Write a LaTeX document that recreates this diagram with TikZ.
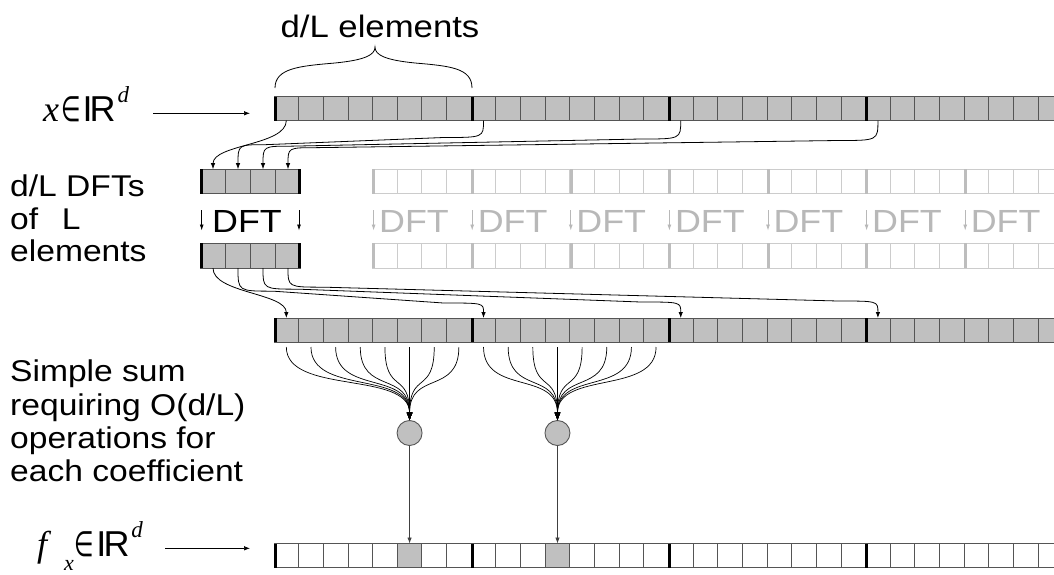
\documentclass[tikz,border=0pt]{standalone}
\usepackage{fontspec}
\setmainfont{Liberation Sans}[FakeStretch=1.12]
\newfontfamily\tnr{Liberation Serif}
\newfontfamily\arial{Liberation Sans}
\newfontfamily\djv{DejaVu Sans}
\usetikzlibrary{arrows.meta,calc}
\definecolor{cellfill}{HTML}{C0C0C0}
\definecolor{cellline}{HTML}{555555}
\definecolor{faint}{HTML}{CCCCCC}
\definecolor{faintthick}{HTML}{BDBDBD}
\definecolor{gtext}{HTML}{B8B8B8}
\newcommand{\elemsym}{\scalebox{0.8}[1.25]{\fontsize{28}{30}\selectfont\djv ∈}}
\begin{document}
\begin{tikzpicture}[x=1pt,y=-1pt,
  cell/.style={draw=cellline, fill=cellfill, line width=0.9pt, minimum width=24.65pt, minimum height=24pt, inner sep=0pt, outer sep=0pt},
  wcell/.style={cell, fill=white},
  fcell/.style={draw=faint, fill=white, line width=0.9pt, minimum width=24.65pt, minimum height=24.7pt, inner sep=0pt, outer sep=0pt},
  bcell/.style={cell, minimum width=25pt, minimum height=24.7pt},
  sepline/.style={line width=3pt, black},
  fsepline/.style={line width=3pt, faintthick},
  arr/.style={-{Latex[length=6pt,width=4.5pt]}, line width=0.8pt, black},
  fanarr/.style={-{Latex[length=8pt,width=6pt]}, line width=0.7pt, black, shorten <=5pt},
  varr/.style={-{Latex[length=6pt,width=4.5pt]}, line width=0.8pt, black!75},
  darr/.style={-{Latex[length=6pt,width=4pt]}, line width=0.8pt, black},
  garr/.style={darr, gtext},
  lbl/.style={font=\fontsize{30}{33}\selectfont, inner sep=0pt, anchor=base west},
  dftlbl/.style={font=\fontsize{32}{35}\selectfont, inner sep=0pt},
  circ/.style={circle, draw=cellline, fill=cellfill, line width=0.9pt, minimum size=25pt, inner sep=0pt, outer sep=0pt}
]
\path[use as bounding box] (0,0) rectangle (1054,574);
\fill[white] (0,0) rectangle (1054,574);
\clip (0,0) rectangle (1054,574);

% ---------- labels ----------
\node[font=\fontsize{31}{34}\selectfont, inner sep=0pt, anchor=base] (top) at (380,37.5) {d/L elements};
\node[lbl] (l1) at (10,196) {d/L DFTs};
\node[lbl] (l2) at (10,229) {of~~\kern5pt L};
\node[lbl] (l3) at (10,261.5) {elements};
\node[lbl] (s1) at (10,381.7) {Simple sum};
\node[lbl] (s2) at (10,415) {requiring O(d/L)};
\node[lbl] (s3) at (10,448) {operations for};
\node[lbl] (s4) at (10,481) {each coefficient};

\node[inner sep=0pt, anchor=base west] (xl) at (43,121.7)
  {\fontsize{36}{40}\selectfont{\tnr\itshape x}\kern2pt\elemsym\kern2pt{\arial I\kern-3pt R}\kern2pt\raisebox{19pt}{\fontsize{23}{25}\selectfont\tnr\itshape d}};
\node[inner sep=0pt, anchor=base west] (fl) at (37,556.7)
  {\fontsize{36}{40}\selectfont{\tnr\itshape f}\kern17pt\raisebox{-14pt}{\fontsize{22}{24}\selectfont\tnr\itshape x}\kern1pt\elemsym\kern2pt{\arial I\kern-3pt R}\kern2pt\raisebox{19pt}{\fontsize{23}{25}\selectfont\tnr\itshape d}};

\coordinate (xs) at (153,113.3);
\coordinate (xe) at (250,113.3);
\draw[arr, line width=0.7pt] (xs) -- (xe);
\coordinate (fs) at (165,548.3);
\coordinate (fe) at (250,548.3);
\draw[arr, line width=0.7pt] (fs) -- (fe);

% ---------- brace ----------
\draw[line width=0.8pt] (275,88) .. controls (275,68) and (300,66) .. (335,63)
  .. controls (365,60) and (375,55) .. (375,47)
  .. controls (375,55) and (385,60) .. (415,63)
  .. controls (450,66) and (472,68) .. (472,88);

% ---------- long arrays ----------
\foreach \k in {0,...,31} {
  \node[cell] (t\k) at ({286.325+24.65*\k},108.5) {};
  \node[cell] (m\k) at ({286.325+24.65*\k},330) {};
  \ifnum\k=5 \def\st{cell}\else\ifnum\k=11 \def\st{cell}\else\def\st{wcell}\fi\fi
  \node[\st] (b\k) at ({286.325+24.65*\k},555.5) {};
}
\foreach \j in {0,...,3} {
  \draw[sepline] ({275.3+197.2*\j},96.5) -- ++(0,24);
  \draw[sepline] ({275.3+197.2*\j},318) -- ++(0,24);
  \draw[sepline] ({275.3+197.2*\j},543.5) -- ++(0,24);
}

% ---------- faded arrays ----------
\foreach \k in {0,...,27} {
  \node[fcell] (f\k) at ({384.925+24.65*\k},181.5) {};
  \node[fcell] (g\k) at ({384.925+24.65*\k},255.8) {};
}
\foreach \j in {0,...,6} {
  \draw[fsepline] ({373.8+98.6*\j},169.15) -- ++(0,24.7);
  \draw[fsepline] ({373.8+98.6*\j},243.45) -- ++(0,24.7);
  \coordinate (ga\j) at ({373.6+98.6*\j},210);
  \coordinate (gb\j) at ({373.6+98.6*\j},230.5);
  \draw[garr] (ga\j) -- (gb\j);
  \node[dftlbl, text=gtext, anchor=base west] (gd\j) at ({379+98.6*\j},232) {DFT};
}

% ---------- DFT blocks ----------
\foreach \i in {0,...,3} {
  \node[bcell] (a\i) at ({213+25*\i},181.5) {};
  \node[bcell] (c\i) at ({213+25*\i},255.8) {};
}
\draw[sepline] (201.8,169.15) -- ++(0,24.7);
\draw[sepline] (299.2,169.15) -- ++(0,24.7);
\draw[sepline] (201.8,243.45) -- ++(0,24.7);
\draw[sepline] (299.2,243.45) -- ++(0,24.7);
\node[dftlbl, anchor=base] (dft) at (247,232) {DFT};
\coordinate (da1) at (201.7,210);
\coordinate (db1) at (201.7,230.5);
\coordinate (da2) at (299,210);
\coordinate (db2) at (299,230.5);
\draw[darr] (da1) -- (db1);
\draw[darr] (da2) -- (db2);

% ---------- top array -> block 1 ----------
\draw[arr] (t0.south) .. controls +(0,25) and +(0,-25) .. (a0.north);
\foreach \i/\s in {1/8,2/16,3/24} {
  \pgfmathsetmacro\ya{15.5+1.5*\i}
  \pgfmathsetmacro\yb{26-1.5*\i}
  \draw[arr] (t\s.south) .. controls ($(t\s.south)+(0,\ya)$) .. ($(t\s.south)+(-40,\ya)$)
     -- ($(a\i.north)+(28,-\yb)$) .. controls ($(a\i.north)+(0,-\yb)$) .. (a\i.north);
}

% ---------- block 2 -> middle array ----------
\draw[arr] (c0.south) .. controls +(0,25) and +(0,-25) .. (m0.north);
\foreach \i/\s in {1/8,2/16,3/24} {
  \pgfmathsetmacro\ya{25-2*\i}
  \pgfmathsetmacro\yb{14+1*\i}
  \draw[arr] (c\i.south) .. controls ($(c\i.south)+(0,\ya)$) .. ($(c\i.south)+(35,\ya)$)
     -- ($(m\s.north)+(-40,-\yb)$) .. controls ($(m\s.north)+(0,-\yb)$) .. (m\s.north);
}

% ---------- sums ----------
\node[circ] (o1) at (409.575,433) {};
\node[circ] (o2) at (557.475,433) {};
\foreach \k in {0,...,7} {
  \draw[fanarr] (m\k.south) .. controls +(0,53) and +(0,-50) .. (o1.north);
}
\foreach \k in {8,...,15} {
  \draw[fanarr] (m\k.south) .. controls +(0,53) and +(0,-50) .. (o2.north);
}
\draw[varr] (o1.south) -- (b5.north);
\draw[varr] (o2.south) -- (b11.north);
\end{tikzpicture}
\end{document}
